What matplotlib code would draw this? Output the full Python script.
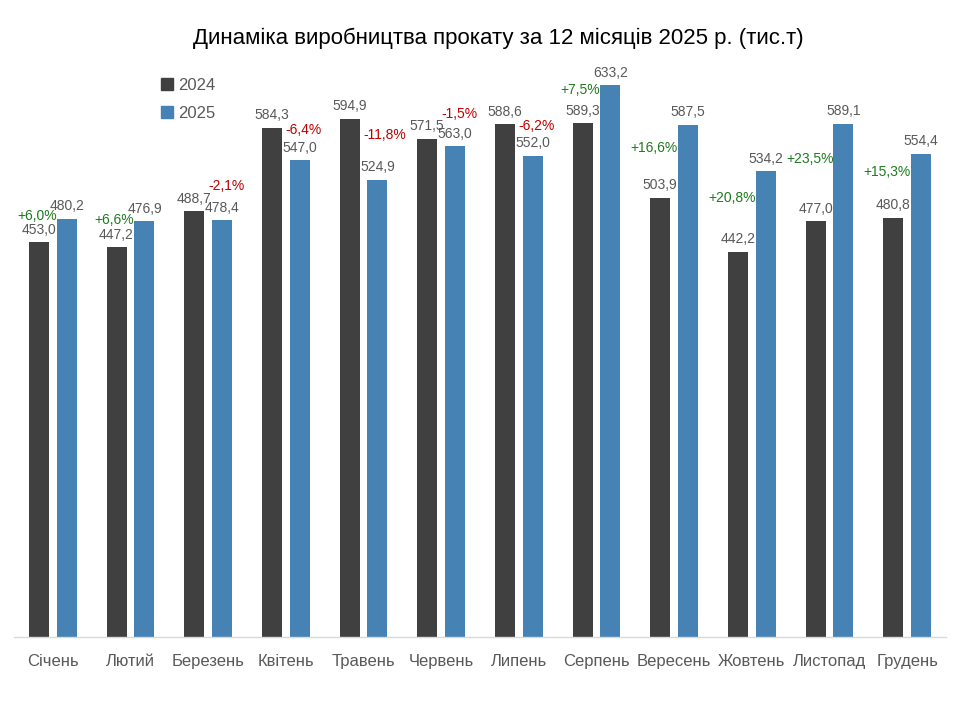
""" Production dynamics of rolled steel, 2024 vs 2025 """

import matplotlib.pyplot as plt
from matplotlib.patches import Patch
import numpy as np

plt.rcParams['font.family'] = ['Liberation Sans', 'DejaVu Sans']

months = ['Січень', 'Лютий', 'Березень', 'Квітень', 'Травень', 'Червень',
          'Липень', 'Серпень', 'Вересень', 'Жовтень', 'Листопад', 'Грудень']
y2024 = [453.0, 447.2, 488.7, 584.3, 594.9, 571.5, 588.6, 589.3, 503.9, 442.2, 477.0, 480.8]
y2025 = [480.2, 476.9, 478.4, 547.0, 524.9, 563.0, 552.0, 633.2, 587.5, 534.2, 589.1, 554.4]
change = ['+6,0%', '+6,6%', '-2,1%', '-6,4%', '-11,8%', '-1,5%',
          '-6,2%', '+7,5%', '+16,6%', '+20,8%', '+23,5%', '+15,3%']

dark = '#404040'
blue = '#4682B4'
grey = '#595959'
green = '#1E7B1E'
red = '#C00000'

fig = plt.figure(figsize=(9.6, 7.2), dpi=100)
ax = fig.add_axes([14/960, 1 - 637/720, 932/960, 610/720])

x = np.arange(len(months))
w = 0.257
off = 0.18
b1 = ax.bar(x - off, y2024, w, color=dark, label='2024')
b2 = ax.bar(x + off, y2025, w, color=blue, label='2025')

def fmt(v):
    return ('%.1f' % v).replace('.', ',')

for bars, vals in ((b1, y2024), (b2, y2025)):
    for b, v in zip(bars, vals):
        ax.annotate(fmt(v), (b.get_x() + b.get_width() / 2, v), xytext=(0, 4),
                    textcoords='offset points', ha='center', va='bottom',
                    fontsize=10, color=grey)

for i in range(len(months)):
    a, b = y2024[i], y2025[i]
    if abs(a - b) < 20:
        ypos = max(a, b) + 29
    else:
        ypos = (a + b) / 2 + 16
    if change[i].startswith('+'):
        ax.text(i + 0.05, ypos, change[i], ha='right', va='center', fontsize=10, color=green)
    else:
        ax.text(i, ypos, change[i], ha='left', va='center', fontsize=10, color=red)

ax.set_xlim(-0.5, len(months) - 0.5)
ax.set_ylim(0, 700)
ax.set_xticks(x)
ax.set_xticklabels(months, fontsize=12, color=grey)
ax.tick_params(axis='x', length=0, pad=12)
ax.set_yticks([])
for s in ('top', 'right', 'left'):
    ax.spines[s].set_visible(False)
ax.spines['bottom'].set_color('#D9D9D9')
ax.spines['bottom'].set_linewidth(1)

fig.text(498/960, 1 - 38/720, 'Динаміка виробництва прокату за 12 місяців 2025 р. (тис.т)',
         ha='center', va='center', fontsize=16, color='black')

handles = [Patch(color=dark), Patch(color=blue)]
fig.legend(handles, ['2024', '2025'], loc='upper left', bbox_to_anchor=(146/960, 1 - 63/720),
           frameon=False, fontsize=12, labelcolor=grey, handlelength=0.7, handleheight=0.7,
           handletextpad=0.3, labelspacing=0.75)

fig.savefig('out.png')
